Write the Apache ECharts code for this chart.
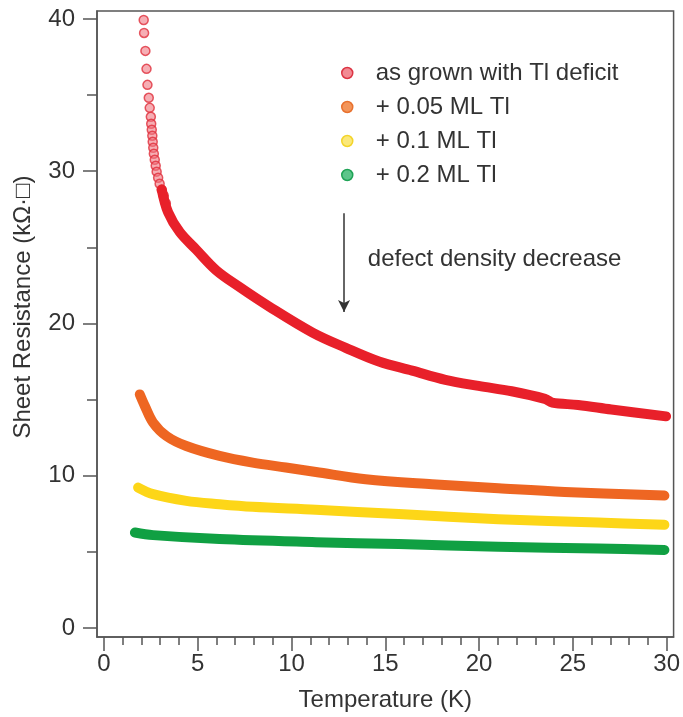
<!DOCTYPE html>
<html>
<head>
<meta charset="utf-8">
<script src="https://cdn.jsdelivr.net/npm/echarts@6/dist/echarts.min.js"></script>
<style>
  html, body { margin: 0; padding: 0; background: #fff; }
  #chart { width: 683px; height: 717px; }
</style>
</head>
<body>
<div id="chart"></div>
<script>
// series names
const seriesNames = ['as grown with Tl deficit', '+ 0.05 ML Tl', '+ 0.1 ML Tl', '+ 0.2 ML Tl']

// as grown: separate circles at the steep low-T part
const redDotsT = [2.12, 2.14, 2.21, 2.27, 2.32, 2.39, 2.44, 2.50, 2.52, 2.55, 2.58, 2.60, 2.63, 2.66, 2.71, 2.76, 2.81, 2.89, 2.97, 3.08, 3.19, 3.30]
const redDotsR = [39.93, 39.08, 37.9, 36.72, 35.67, 34.82, 34.16, 33.57, 33.11, 32.72, 32.33, 31.93, 31.54, 31.15, 30.75, 30.36, 29.97, 29.57, 29.18, 28.79, 28.39, 27.9]
// as grown: dense band
const redT = [3.08, 3.42, 4.04, 4.92, 5.98, 7.22, 8.82, 11.12, 12.89, 14.66, 16.43, 18.2, 19.97, 21.74, 23.51, 23.9, 25.28, 27.05, 29.97]
const redR = [28.79, 27.3, 26.0, 24.85, 23.5, 22.4, 21.1, 19.4, 18.4, 17.5, 16.9, 16.3, 15.9, 15.55, 15.05, 14.8, 14.65, 14.35, 13.9]

const orangeT = [1.91, 2.18, 2.62, 3.33, 4.39, 6.16, 7.93, 9.70, 11.3, 13.95, 17.49, 21.03, 24.57, 29.88]
const orangeR = [15.34, 14.58, 13.49, 12.61, 11.95, 11.30, 10.86, 10.54, 10.25, 9.77, 9.44, 9.18, 8.94, 8.70]

const yellowT = [1.82, 2.62, 4.39, 6.16, 7.93, 11.3, 15.72, 21.03, 26.34, 29.88]
const yellowR = [9.22, 8.79, 8.35, 8.13, 7.96, 7.77, 7.48, 7.15, 6.93, 6.78]

const greenT = [1.65, 2.62, 6.16, 11.3, 15.72, 21.03, 26.34, 29.88]
const greenR = [6.27, 6.10, 5.84, 5.64, 5.51, 5.33, 5.22, 5.13]

// ticks
const xMajor = [0, 5, 10, 15, 20, 25, 30]
const xMinor = [1, 2, 3, 4, 6, 7, 8, 9, 11, 12, 13, 14, 16, 17, 18, 19, 21, 22, 23, 24, 26, 27, 28, 29]
const yMajor = [0, 10, 20, 30, 40]
const yMinor = [5, 15, 25, 35]

// arrow annotation (T, R)
const arrowFrom = [12.8, 27.24]
const arrowTo = [12.8, 20.76]
const noteText = 'defect density decrease'
const notePos = [14.07, 24.23]

const zip = (a, b) => a.map((v, i) => [v, b[i]])

const FONT = '"Liberation Sans", Arial, sans-serif'
const AXIS = '#555'
const TEXT = '#333'
const FS = 24

const xRange = { min: -0.37, max: 30.37 }
const yRange = { min: -0.59, max: 40.52 }

let myChart = echarts.init(document.getElementById('chart'))

let option = {
  animation: false,
  grid: {
    left: 97,
    right: 7,
    top: 11,
    bottom: 79,
    show: true,
    borderColor: AXIS,
    borderWidth: 1.5
  },
  legend: {
    orient: 'vertical',
    left: 336,
    top: 56,
    itemWidth: 11,
    itemHeight: 11,
    itemGap: 10,
    icon: 'circle',
    textStyle: { fontSize: FS, color: TEXT, fontFamily: FONT, padding: [0, 0, 0, 18] },
    data: [
      { name: seriesNames[0], itemStyle: { color: '#f28a93', borderColor: '#dc3443', borderWidth: 1.5 } },
      { name: seriesNames[1], itemStyle: { color: '#f3955a', borderColor: '#e8712e', borderWidth: 1.5 } },
      { name: seriesNames[2], itemStyle: { color: '#fbe879', borderColor: '#f3d42a', borderWidth: 1.5 } },
      { name: seriesNames[3], itemStyle: { color: '#5cc58a', borderColor: '#1fa356', borderWidth: 1.5 } }
    ]
  },
  xAxis: [{
    type: 'value',
    min: xRange.min,
    max: xRange.max,
    name: 'Temperature (K)',
    nameLocation: 'middle',
    nameGap: 51,
    nameTextStyle: { fontSize: FS, color: TEXT, fontFamily: FONT },
    axisLine: { onZero: false, lineStyle: { color: AXIS, width: 1.5 } },
    axisTick: { show: true, length: 14, customValues: xMajor, lineStyle: { color: AXIS, width: 1.5 } },
    axisLabel: { customValues: xMajor, fontSize: FS, color: TEXT, fontFamily: FONT, margin: 15 },
    splitLine: { show: false }
  }, {
    type: 'value',
    min: xRange.min,
    max: xRange.max,
    position: 'bottom',
    axisLine: { show: false, onZero: false },
    axisTick: { show: true, length: 8, customValues: xMinor, lineStyle: { color: AXIS, width: 1.5 } },
    axisLabel: { show: false },
    splitLine: { show: false }
  }],
  yAxis: [{
    type: 'value',
    min: yRange.min,
    max: yRange.max,
    name: 'Sheet Resistance (kΩ·□)',
    nameLocation: 'middle',
    nameGap: 62,
    nameTextStyle: { fontSize: FS, color: TEXT, fontFamily: FONT, padding: [0, 0, 0, 34] },
    axisLine: { show: true, onZero: false, lineStyle: { color: AXIS, width: 1.5 } },
    axisTick: { show: true, length: 14, customValues: yMajor, lineStyle: { color: AXIS, width: 1.5 } },
    axisLabel: { customValues: yMajor, fontSize: FS, color: TEXT, fontFamily: FONT, margin: 22 },
    splitLine: { show: false }
  }, {
    type: 'value',
    min: yRange.min,
    max: yRange.max,
    position: 'left',
    axisLine: { show: false, onZero: false },
    axisTick: { show: true, length: 10, customValues: yMinor, lineStyle: { color: AXIS, width: 1.5 } },
    axisLabel: { show: false },
    splitLine: { show: false }
  }],
  series: [{
    name: seriesNames[3],
    type: 'line',
    smooth: 0.35,
    showSymbol: false,
    data: zip(greenT, greenR),
    lineStyle: { color: '#10a043', width: 10, cap: 'round', join: 'round' },
    itemStyle: { color: '#10a043' }
  }, {
    name: seriesNames[2],
    type: 'line',
    smooth: 0.35,
    showSymbol: false,
    data: zip(yellowT, yellowR),
    lineStyle: { color: '#fdd618', width: 10, cap: 'round', join: 'round' },
    itemStyle: { color: '#fdd618' }
  }, {
    name: seriesNames[1],
    type: 'line',
    smooth: 0.35,
    showSymbol: false,
    data: zip(orangeT, orangeR),
    lineStyle: { color: '#ee6622', width: 10, cap: 'round', join: 'round' },
    itemStyle: { color: '#ee6622' }
  }, {
    name: seriesNames[0],
    type: 'line',
    smooth: 0.35,
    showSymbol: false,
    data: zip(redT, redR),
    lineStyle: { color: '#e8202a', width: 10, cap: 'round', join: 'round' },
    itemStyle: { color: '#e8202a' },
    markLine: {
      silent: true,
      symbol: ['none', 'arrow'],
      symbolSize: [9, 12],
      label: { show: false },
      lineStyle: { color: '#333', width: 1.5, type: 'solid' },
      data: [[{ coord: arrowFrom }, { coord: arrowTo }]]
    }
  }, {
    name: seriesNames[0],
    type: 'scatter',
    symbol: 'circle',
    symbolSize: 9,
    data: zip(redDotsT, redDotsR),
    itemStyle: { color: 'rgba(240, 120, 130, 0.75)', borderColor: '#e0303c', borderWidth: 1.5 }
  }]
}

myChart.setOption(option)

// annotation text placed at a data position
let p = myChart.convertToPixel({ xAxisIndex: 0, yAxisIndex: 0 }, notePos)
myChart.setOption({
  graphic: [{
    type: 'text',
    x: p[0],
    y: p[1],
    style: {
      text: noteText,
      fontSize: FS,
      fontFamily: FONT,
      fill: TEXT,
      verticalAlign: 'middle'
    }
  }]
})
</script>
</body>
</html>
